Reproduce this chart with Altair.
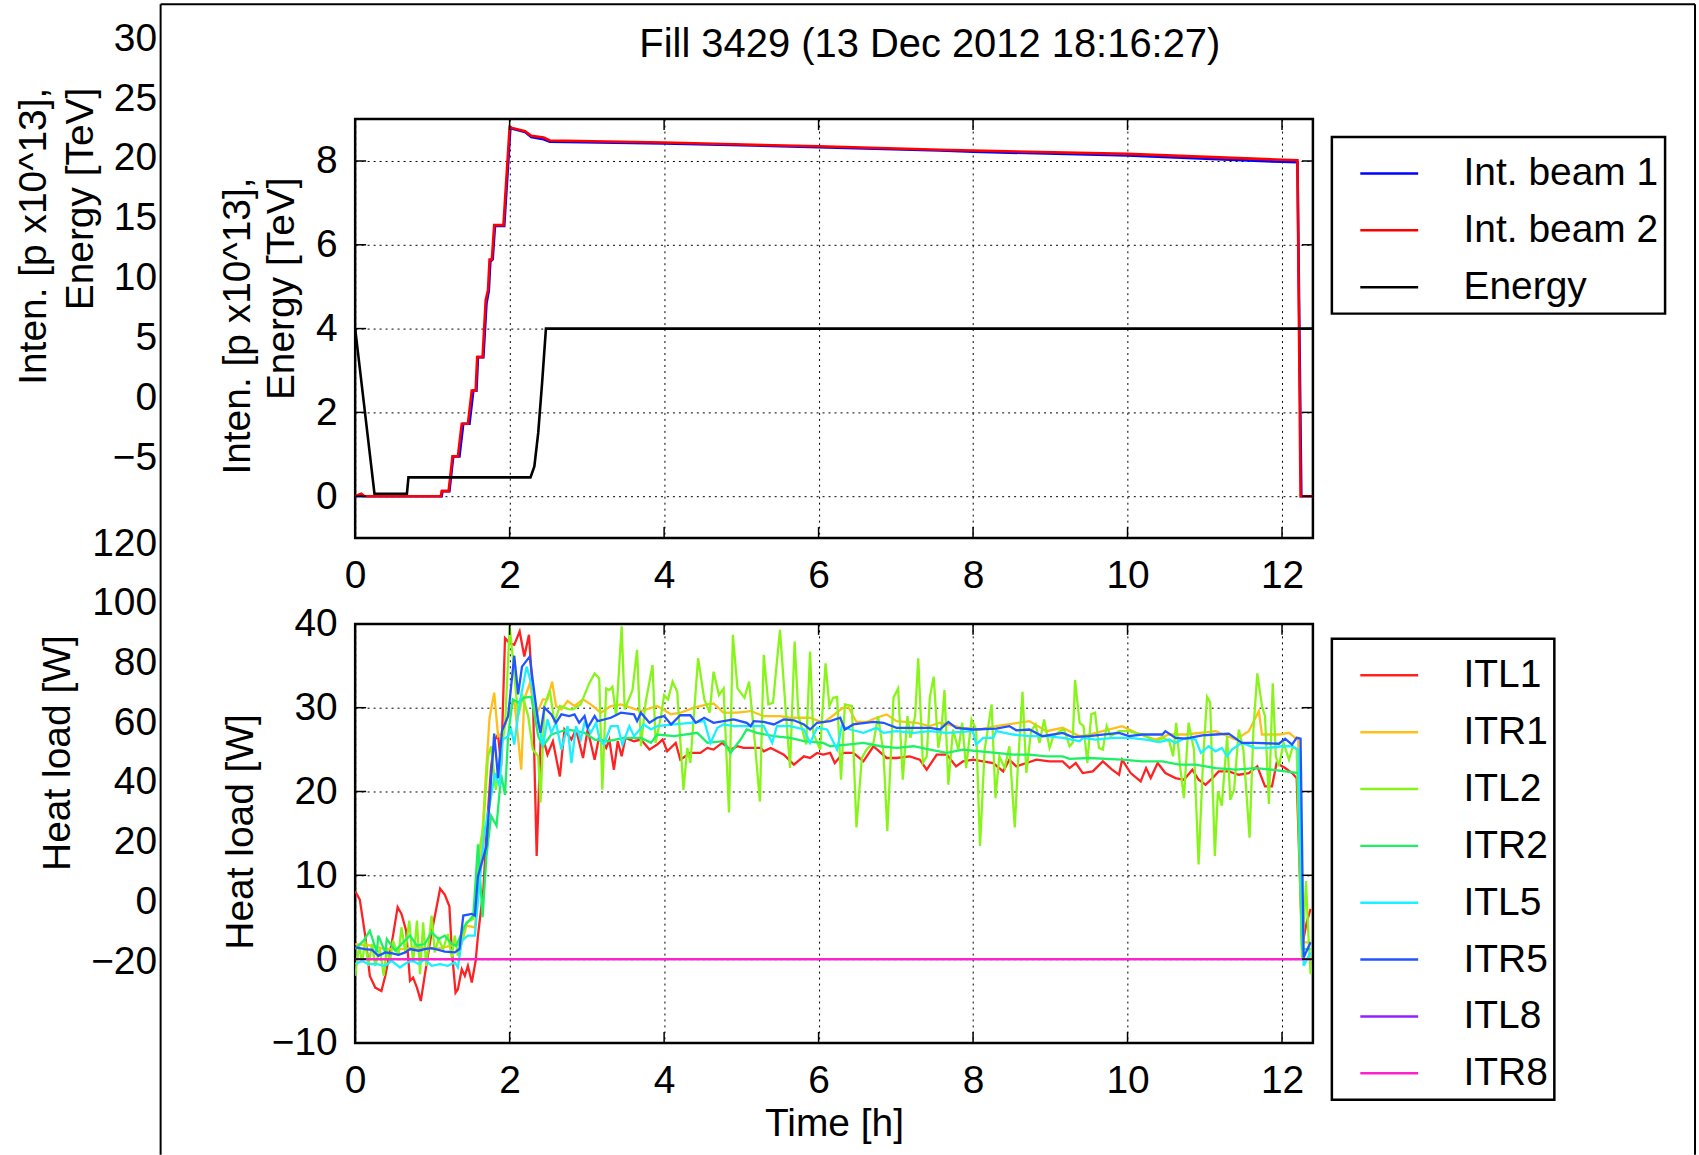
import altair as alt
import pandas as pd

FONT = "Liberation Sans"
FS = 39

TITLE = "Fill 3429 (13 Dec 2012 18:16:27)"
TOP_YTITLE = ["Inten. [p x10^13],", "Energy [TeV]"]
BOT_YTITLE = "Heat load [W]"
XTITLE = "Time [h]"

X_TICKS = [0, 2, 4, 6, 8, 10, 12]
TOP_Y_TICKS = [0, 2, 4, 6, 8]
BOT_Y_TICKS = [-10, 0, 10, 20, 30, 40]
OUTER_TOP_TICKS = [-5, 0, 5, 10, 15, 20, 25, 30]
OUTER_BOT_TICKS = [-20, 0, 20, 40, 60, 80, 100, 120]

TOP_NAMES = ["Int. beam 1", "Int. beam 2", "Energy"]
TOP_COLORS = ["#0000ff", "#ff0000", "#000000"]
BOT_NAMES = ["ITL1", "ITR1", "ITL2", "ITR2", "ITL5", "ITR5", "ITL8", "ITR8"]
BOT_COLORS = ["#ff2222", "#ffbf1a", "#88f51a", "#1ef066", "#1af0ff", "#2255ff", "#9022ff", "#ff22cc"]

# (time [h], value) samples
BEAM1 = [(0.0, 0.0), (1.12, 0.0), (1.13, 0.12), (1.22, 0.12), (1.27, 0.95), (1.35, 0.95), (1.40, 1.73),
         (1.48, 1.73), (1.53, 2.52), (1.57, 2.52), (1.59, 3.32), (1.66, 3.32), (1.70, 4.6), (1.73, 4.9),
         (1.75, 5.6), (1.78, 5.65), (1.81, 6.45), (1.93, 6.45), (2.01, 8.8), (2.04, 8.77), (2.20, 8.69),
         (2.28, 8.57), (2.44, 8.52), (2.52, 8.46), (4.0, 8.42), (6.0, 8.33), (7.57, 8.25), (8.0, 8.22),
         (10.0, 8.13), (12.0, 7.98), (12.2, 7.97), (12.25, 0.0), (12.4, 0.0)]
BEAM2 = [(0.0, 0.0), (0.08, 0.06), (0.12, 0.0), (1.11, 0.0), (1.12, 0.12), (1.21, 0.12), (1.26, 0.95),
         (1.33, 0.95), (1.38, 1.73), (1.46, 1.73), (1.51, 2.52), (1.56, 2.52), (1.58, 3.32), (1.65, 3.32),
         (1.69, 4.68), (1.72, 4.92), (1.74, 5.65), (1.77, 5.65), (1.80, 6.47), (1.92, 6.47), (2.00, 8.81),
         (2.03, 8.79), (2.20, 8.71), (2.28, 8.60), (2.44, 8.56), (2.52, 8.49), (4.0, 8.44), (6.0, 8.35),
         (7.57, 8.27), (8.0, 8.25), (10.0, 8.17), (12.0, 8.03), (12.2, 8.02), (12.24, 0.0), (12.4, 0.0)]
ENERGY = [(0.0, 4.0), (0.25, 0.06), (0.67, 0.06), (0.69, 0.45), (2.27, 0.45), (2.32, 0.71), (2.37, 1.51),
          (2.42, 2.7), (2.47, 4.0), (12.4, 4.0)]

ITL1 = [(0.0, 8.1), (0.06, 7.1), (0.13, 2.8), (0.19, -2.0), (0.26, -3.4), (0.34, -3.8), (0.39, -2.0), (0.45, 0.8),
        (0.49, 2.8), (0.55, 6.2), (0.60, 5.4), (0.66, 3.4), (0.71, -2.6), (0.75, -2.2), (0.80, -3.4), (0.85, -5.0),
        (0.90, -2.0), (0.99, 3.2), (1.05, 6.0), (1.10, 8.4), (1.16, 7.7), (1.22, 6.3), (1.25, 1.2), (1.30, -4.0),
        (1.33, -3.6), (1.38, -1.2), (1.42, -2.0), (1.46, -0.8), (1.51, -2.8), (1.56, -0.2), (1.59, 2.8), (1.66, 8.3),
        (1.70, 15.1), (1.76, 23.0), (1.81, 26.2), (1.85, 26.8), (1.89, 23.0), (1.94, 38.3), (2.00, 37.7), (2.06, 37.5),
        (2.13, 39.1), (2.19, 36.1), (2.25, 38.7), (2.30, 31.7), (2.35, 12.3), (2.40, 25.8), (2.45, 25.8), (2.49, 24.4),
        (2.56, 26.0), (2.65, 21.8), (2.71, 27.4), (2.80, 26.2), (2.86, 27.4), (2.95, 24.0), (3.01, 27.4), (3.10, 23.8),
        (3.16, 26.6), (3.25, 25.2), (3.29, 26.2), (3.35, 22.6), (3.40, 26.0), (3.45, 24.2), (3.50, 26.4), (3.61, 26.0),
        (3.70, 26.2), (3.81, 25.0), (3.91, 25.6), (3.98, 26.2), (4.04, 24.8), (4.15, 25.8), (4.21, 23.8), (4.34, 24.6),
        (4.47, 24.6), (4.56, 25.2), (4.64, 25.0), (4.75, 25.8), (4.86, 25.0), (4.95, 25.4), (5.03, 25.2), (5.25, 25.2),
        (5.29, 24.8), (5.38, 25.2), (5.55, 24.4), (5.68, 23.2), (5.81, 24.2), (5.89, 24.0), (5.98, 24.6), (6.06, 24.4),
        (6.15, 24.6), (6.21, 23.4), (6.32, 24.6), (6.45, 24.6), (6.58, 23.6), (6.71, 25.4), (6.88, 24.0), (7.01, 24.0),
        (7.18, 24.2), (7.31, 23.8), (7.40, 22.6), (7.53, 24.4), (7.66, 24.4), (7.78, 23.0), (7.87, 23.6), (8.00, 23.8),
        (8.13, 23.6), (8.26, 23.4), (8.39, 22.4), (8.47, 23.8), (8.56, 23.0), (8.69, 23.4), (8.82, 23.8), (8.99, 23.6),
        (9.16, 23.6), (9.25, 22.8), (9.33, 23.4), (9.42, 22.2), (9.55, 22.4), (9.68, 23.6), (9.80, 22.6), (9.89, 22.0),
        (9.93, 23.8), (10.04, 22.2), (10.17, 21.2), (10.24, 22.8), (10.30, 21.6), (10.39, 23.4), (10.49, 22.2),
        (10.62, 21.6), (10.73, 21.4), (10.84, 22.6), (10.92, 21.4), (11.01, 20.8), (11.10, 21.6), (11.18, 22.4),
        (11.31, 22.4), (11.44, 22.0), (11.57, 22.2), (11.68, 23.0), (11.78, 20.6), (11.87, 20.6), (11.93, 23.4),
        (12.04, 22.8), (12.13, 22.2), (12.19, 21.6), (12.26, 1.6), (12.32, 4.4), (12.37, 6.0)]

ITR1 = [(0.0, 1.8), (0.22, 1.6), (0.39, 1.2), (0.60, 1.2), (0.82, 1.4), (1.03, 1.2), (1.25, 1.6), (1.38, 1.8),
        (1.44, 4.0), (1.55, 3.8), (1.61, 9.1), (1.68, 20.2), (1.74, 28.8), (1.80, 31.8), (1.85, 26.6), (1.91, 27.0),
        (1.98, 29.0), (2.06, 31.0), (2.15, 22.6), (2.19, 31.0), (2.26, 32.9), (2.34, 29.0), (2.43, 31.0), (2.49, 31.0),
        (2.55, 33.1), (2.60, 30.2), (2.67, 29.8), (2.75, 30.8), (2.84, 30.2), (2.95, 31.0), (3.05, 30.4), (3.18, 29.4),
        (3.31, 30.2), (3.44, 30.4), (3.70, 29.6), (3.91, 30.2), (4.09, 29.2), (4.21, 29.4), (4.39, 30.0), (4.56, 30.4),
        (4.64, 30.5), (4.77, 29.4), (4.94, 29.4), (5.12, 29.6), (5.29, 29.0), (5.50, 29.0), (5.63, 28.8), (5.89, 28.8),
        (6.06, 28.2), (6.15, 28.8), (6.32, 30.0), (6.39, 30.0), (6.49, 28.3), (6.62, 28.3), (6.75, 28.8), (6.88, 29.2),
        (7.01, 28.4), (7.27, 28.2), (7.44, 27.8), (7.57, 28.2), (7.87, 27.6), (8.09, 27.4), (8.30, 27.8), (8.73, 28.4),
        (8.95, 27.2), (9.16, 27.6), (9.38, 26.6), (9.50, 26.8), (9.93, 27.8), (10.11, 27.0), (10.36, 26.2),
        (10.54, 26.8), (10.75, 26.8), (11.14, 27.2), (11.40, 26.2), (11.57, 27.2), (11.70, 29.6), (11.74, 26.8),
        (11.96, 26.8), (12.09, 27.0), (12.17, 26.4), (12.21, 26.4), (12.26, 2.0), (12.37, 2.0)]

ITL2 = [(0.0, -2.0), (0.05, 1.6), (0.09, -0.4), (0.13, 2.2), (0.17, -0.8), (0.22, 1.8), (0.26, -0.8), (0.32, 1.2),
        (0.37, -2.0), (0.41, 1.4), (0.45, -0.4), (0.49, 2.2), (0.56, 0.4), (0.60, 3.8), (0.65, 0.8), (0.70, 4.6),
        (0.75, -0.4), (0.80, 4.6), (0.84, -1.8), (0.88, 4.4), (0.92, -0.8), (0.99, 5.2), (1.03, 0.8), (1.08, 2.4),
        (1.14, 1.2), (1.20, 3.0), (1.25, 0.2), (1.29, 2.8), (1.33, 0.4), (1.44, 4.4), (1.53, 4.8), (1.61, 13.1),
        (1.66, 15.9), (1.72, 24.2), (1.76, 25.4), (1.82, 20.2), (1.87, 23.8), (1.94, 27.8), (2.00, 39.7), (2.04, 36.1),
        (2.11, 29.0), (2.17, 31.3), (2.24, 29.0), (2.30, 25.0), (2.37, 24.2), (2.40, 18.7), (2.45, 30.2), (2.52, 32.1),
        (2.58, 28.2), (2.65, 30.2), (2.71, 30.0), (2.77, 29.8), (2.82, 29.8), (2.92, 30.4), (3.03, 32.9), (3.10, 34.1),
        (3.16, 33.5), (3.20, 20.2), (3.25, 32.3), (3.29, 32.1), (3.33, 32.5), (3.38, 29.0), (3.45, 39.7), (3.49, 29.8),
        (3.59, 32.1), (3.65, 36.9), (3.70, 25.4), (3.76, 30.6), (3.85, 35.1), (3.89, 25.8), (3.96, 29.0), (4.00, 31.5),
        (4.05, 31.0), (4.11, 33.1), (4.17, 31.9), (4.25, 20.2), (4.30, 25.2), (4.34, 23.4), (4.44, 35.9), (4.52, 31.0),
        (4.59, 29.4), (4.64, 34.3), (4.71, 31.5), (4.77, 32.3), (4.84, 17.5), (4.89, 38.7), (4.95, 32.3), (5.04, 31.2),
        (5.10, 33.1), (5.16, 27.4), (5.24, 18.8), (5.29, 36.3), (5.35, 30.4), (5.41, 30.6), (5.50, 39.3), (5.57, 30.2),
        (5.63, 22.8), (5.69, 37.9), (5.74, 29.0), (5.84, 25.6), (5.89, 36.7), (5.93, 27.0), (6.02, 25.0), (6.09, 35.3),
        (6.14, 30.2), (6.19, 31.2), (6.24, 31.3), (6.29, 21.4), (6.34, 30.4), (6.43, 30.2), (6.49, 15.7), (6.56, 24.0),
        (6.62, 25.0), (6.71, 25.8), (6.77, 29.0), (6.84, 24.6), (6.89, 15.3), (6.97, 31.2), (7.03, 32.3), (7.09, 21.4),
        (7.15, 29.0), (7.19, 26.4), (7.25, 29.0), (7.29, 35.9), (7.35, 23.4), (7.40, 24.2), (7.44, 31.2), (7.49, 33.7),
        (7.55, 25.2), (7.59, 27.4), (7.63, 32.1), (7.68, 20.8), (7.74, 27.4), (7.81, 25.0), (7.86, 28.2), (7.91, 22.8),
        (7.98, 28.6), (8.04, 27.4), (8.09, 13.5), (8.15, 25.0), (8.24, 30.4), (8.29, 19.2), (8.34, 24.2), (8.41, 22.8),
        (8.47, 25.4), (8.54, 15.7), (8.58, 23.0), (8.64, 31.9), (8.69, 22.2), (8.75, 27.2), (8.81, 28.0), (8.86, 25.8),
        (8.92, 28.6), (8.99, 25.2), (9.04, 26.6), (9.12, 27.2), (9.18, 27.4), (9.25, 25.4), (9.29, 25.8), (9.32, 33.3),
        (9.38, 28.2), (9.43, 27.8), (9.48, 23.4), (9.53, 29.2), (9.58, 29.4), (9.63, 25.2), (9.68, 25.0), (9.73, 27.8),
        (9.78, 26.6), (9.89, 27.2), (10.02, 27.2), (10.19, 26.8), (10.36, 26.0), (10.47, 26.4), (10.54, 26.0),
        (10.59, 24.2), (10.63, 28.2), (10.68, 23.0), (10.73, 19.2), (10.79, 28.2), (10.86, 25.0), (10.92, 11.3),
        (10.98, 24.2), (11.03, 31.3), (11.07, 30.6), (11.13, 12.3), (11.17, 20.0), (11.22, 18.3), (11.29, 26.6),
        (11.33, 19.0), (11.38, 20.2), (11.44, 27.4), (11.50, 25.0), (11.58, 14.5), (11.63, 27.4), (11.68, 34.1),
        (11.74, 30.2), (11.78, 29.0), (11.83, 18.5), (11.88, 32.9), (11.92, 24.2), (11.96, 23.0), (12.02, 25.8),
        (12.09, 23.8), (12.14, 25.4), (12.19, 25.0), (12.26, 0.0), (12.31, 9.3), (12.34, 3.2), (12.37, -1.8)]

ITR2 = [(0.0, 1.2), (0.11, 2.2), (0.19, 3.4), (0.28, 0.8), (0.30, 2.8), (0.39, 0.8), (0.41, 2.4), (0.52, 1.0),
        (0.60, 1.8), (0.71, 2.8), (0.80, 1.6), (0.90, 1.8), (0.99, 3.2), (1.08, 2.4), (1.16, 2.8), (1.25, 1.8),
        (1.31, 1.6), (1.42, 4.0), (1.53, 5.2), (1.59, 13.7), (1.65, 5.0), (1.70, 12.3), (1.76, 17.1), (1.83, 15.9),
        (1.89, 22.0), (1.94, 19.6), (1.98, 26.6), (2.04, 31.0), (2.11, 30.6), (2.19, 31.2), (2.28, 31.3), (2.37, 26.6),
        (2.43, 25.4), (2.54, 26.8), (2.75, 27.4), (2.97, 27.0), (3.10, 26.2), (3.27, 26.0), (3.48, 26.4), (3.70, 26.4),
        (3.83, 25.8), (3.91, 26.8), (4.13, 26.6), (4.43, 27.0), (4.56, 25.8), (4.77, 26.0), (4.86, 24.6), (4.99, 26.2),
        (5.07, 27.4), (5.20, 27.0), (5.42, 26.6), (5.63, 26.4), (5.81, 26.0), (6.06, 25.8), (6.15, 25.4), (6.37, 25.6),
        (6.58, 25.8), (6.80, 25.4), (7.01, 25.2), (7.23, 25.4), (7.44, 25.0), (7.66, 24.6), (7.87, 25.0), (8.09, 24.8),
        (8.30, 24.6), (8.52, 24.4), (8.73, 24.4), (8.95, 24.2), (9.16, 24.2), (9.25, 23.9), (9.50, 24.0), (9.93, 23.8),
        (10.19, 23.6), (10.45, 23.6), (10.67, 23.2), (10.88, 23.2), (11.14, 22.8), (11.40, 22.6), (11.65, 22.8),
        (11.87, 22.6), (12.04, 22.4), (12.21, 22.2), (12.26, 1.2), (12.37, 1.2)]

ITL5 = [(0.0, -0.6), (0.09, -0.2), (0.17, -0.6), (0.28, -0.6), (0.39, -0.8), (0.47, -0.2), (0.58, -1.0), (0.67, -0.4),
        (0.75, -0.2), (0.82, -0.6), (0.90, 0.0), (0.99, -0.8), (1.10, -0.6), (1.20, -0.8), (1.29, -0.4), (1.33, -1.0),
        (1.38, 2.2), (1.46, 2.8), (1.55, 2.8), (1.61, 9.1), (1.68, 15.5), (1.74, 18.3), (1.81, 22.2), (1.87, 20.6),
        (1.91, 26.2), (1.98, 26.6), (2.02, 27.4), (2.06, 25.6), (2.13, 30.6), (2.22, 34.9), (2.28, 32.9), (2.37, 28.6),
        (2.43, 25.4), (2.49, 28.6), (2.54, 27.0), (2.60, 28.2), (2.67, 25.0), (2.75, 27.8), (2.80, 23.4), (2.86, 27.8),
        (2.92, 26.2), (2.97, 28.2), (3.05, 27.0), (3.12, 28.2), (3.16, 26.4), (3.22, 25.6), (3.31, 27.8), (3.40, 27.8),
        (3.46, 25.6), (3.55, 27.8), (3.61, 26.6), (3.74, 28.0), (3.83, 27.4), (3.91, 27.8), (4.13, 28.0), (4.34, 28.2),
        (4.52, 28.4), (4.60, 25.8), (4.69, 27.6), (4.77, 28.0), (4.90, 27.8), (5.07, 27.8), (5.29, 27.8), (5.40, 25.8),
        (5.46, 27.8), (5.63, 27.8), (5.81, 27.4), (5.89, 25.8), (5.98, 27.6), (6.11, 27.4), (6.24, 25.0), (6.30, 27.8),
        (6.41, 27.4), (6.58, 27.0), (6.75, 27.6), (6.84, 27.0), (7.01, 27.2), (7.23, 27.0), (7.44, 27.2), (7.66, 27.0),
        (8.00, 27.2), (8.04, 25.6), (8.13, 26.4), (8.26, 26.4), (8.30, 27.2), (8.52, 26.8), (8.73, 26.6), (8.95, 26.6),
        (9.16, 26.4), (9.38, 26.0), (9.42, 26.4), (9.59, 26.2), (9.81, 26.4), (10.02, 26.4), (10.24, 26.2),
        (10.41, 25.9), (10.54, 26.2), (10.62, 25.8), (10.75, 26.4), (10.88, 26.2), (10.95, 24.6), (11.05, 25.4),
        (11.14, 24.8), (11.22, 25.2), (11.29, 24.2), (11.35, 25.0), (11.48, 25.8), (11.65, 25.2), (11.83, 25.2),
        (12.00, 25.4), (12.13, 25.4), (12.21, 25.0), (12.28, -0.8), (12.37, 0.8)]

ITR5 = [(0.0, 1.4), (0.13, 1.2), (0.22, 1.1), (0.30, 0.4), (0.39, 0.8), (0.47, 0.7), (0.56, 0.5), (0.65, 0.8),
        (0.71, 1.2), (0.82, 1.0), (0.90, 1.2), (0.99, 1.3), (1.08, 1.1), (1.16, 0.9), (1.29, 0.8), (1.35, 1.2),
        (1.40, 5.2), (1.51, 5.4), (1.55, 5.2), (1.59, 9.9), (1.70, 13.5), (1.80, 26.9), (1.85, 21.6), (1.90, 27.2),
        (1.98, 29.0), (2.06, 36.2), (2.11, 31.6), (2.16, 34.9), (2.26, 36.1), (2.37, 28.2), (2.40, 27.0), (2.45, 30.0),
        (2.54, 29.2), (2.60, 28.2), (2.67, 29.2), (2.77, 29.0), (2.84, 29.2), (2.90, 28.2), (2.97, 29.0), (3.01, 27.6),
        (3.10, 29.0), (3.14, 28.4), (3.31, 28.8), (3.44, 29.4), (3.61, 29.2), (3.65, 28.4), (3.70, 29.4), (3.81, 28.2),
        (3.91, 28.8), (4.00, 29.0), (4.09, 28.0), (4.21, 29.1), (4.34, 29.1), (4.41, 28.2), (4.52, 28.8), (4.64, 28.2),
        (4.77, 28.4), (4.90, 28.6), (5.07, 28.2), (5.12, 27.8), (5.16, 28.4), (5.29, 28.3), (5.42, 28.0), (5.55, 28.6),
        (5.68, 28.5), (5.81, 28.0), (5.89, 27.4), (5.98, 28.2), (6.15, 28.4), (6.28, 28.8), (6.34, 27.4), (6.45, 28.0),
        (6.71, 28.3), (6.84, 28.2), (7.01, 27.6), (7.23, 27.6), (7.44, 27.6), (7.57, 27.4), (7.68, 28.3), (7.78, 27.6),
        (8.00, 27.4), (8.30, 27.5), (8.47, 27.8), (8.56, 27.3), (8.73, 27.4), (8.90, 26.6), (9.16, 27.0), (9.29, 26.5),
        (9.50, 26.6), (9.68, 26.8), (9.89, 27.0), (10.02, 26.6), (10.19, 26.8), (10.45, 26.8), (10.49, 27.2),
        (10.62, 26.4), (10.75, 26.3), (10.97, 26.7), (11.14, 26.8), (11.31, 26.9), (11.48, 25.8), (11.65, 25.8),
        (11.96, 25.7), (12.04, 26.3), (12.13, 25.6), (12.19, 26.4), (12.24, 26.3), (12.28, 0.2), (12.37, 2.0)]

ITL8 = [(0.0, 0.0), (12.38, 0.0)]
ITR8 = [(0.0, 0.0), (12.38, 0.0)]

BOT_SERIES = [ITL1, ITR1, ITL2, ITR2, ITL5, ITR5, ITL8, ITR8]
TOP_SERIES = [BEAM1, BEAM2, ENERGY]

# ---- layout (pixels) ----
W, H = 960, 420          # each plot area
GAP = 86                 # vertical gap between the two plot areas
OX, OY = 354, 116        # top plot-area origin on the page
SIDE_X = 161             # x of the outer label column
FRAME_L, FRAME_R, FRAME_T = 159, 1697, 1   # page frame lines
PAGE_W, PAGE_H = 1699, 1155
TICK = 11

MINUS = "datum.value < 0 ? '\u2212' + format(-datum.value, 'd') : datum.label"

x_scale = alt.Scale(domain=[0, 12.4], nice=False, zero=False)
top_y_scale = alt.Scale(domain=[-1, 9], nice=False, zero=False)
bot_y_scale = alt.Scale(domain=[-10, 40], nice=False, zero=False)


def frame(pts):
    return pd.DataFrame(pts, columns=["t", "v"])


def x_axis(title=None):
    kw = dict(values=X_TICKS, grid=True, labelPadding=19, labelFlush=False, labelAngle=0)
    if title:
        kw.update(title=title, titleX=W / 2, titleY=62, titleAlign="center", titleBaseline="top")
    else:
        kw.update(title="")
    return alt.Axis(**kw)


def tick_layers(y_ticks, y_scale, x_ax, y_ax):
    xt = pd.DataFrame({"t": X_TICKS})
    yt = pd.DataFrame({"v": y_ticks})
    style = dict(color="black", strokeWidth=1.5)
    xe = alt.X("t:Q", scale=x_scale, axis=x_ax)
    ye = alt.Y("v:Q", scale=y_scale, axis=y_ax)
    return [
        alt.Chart(xt).mark_rule(**style).encode(x=xe, y=alt.value(H), y2=alt.value(H - TICK)),
        alt.Chart(xt).mark_rule(**style).encode(x=xe, y=alt.value(0), y2=alt.value(TICK)),
        alt.Chart(yt).mark_rule(**style).encode(y=ye, x=alt.value(0), x2=alt.value(TICK)),
        alt.Chart(yt).mark_rule(**style).encode(y=ye, x=alt.value(W), x2=alt.value(W - TICK)),
    ]


def legend(ly):
    return alt.Legend(title=None, orient="none", legendX=979, legendY=ly, symbolType="stroke",
                      symbolSize=3364, symbolStrokeWidth=2.5, labelFont=FONT, labelFontSize=FS,
                      labelOffset=44, labelLimit=400, padding=6, symbolOffset=21, rowPadding=6,
                      strokeColor="black", fillColor="white")


def series_layers(names, colors, series, y_scale, y_ax, lg, width, x_ax):
    cscale = alt.Scale(domain=names, range=colors)
    layers = []
    for name, pts in zip(names, series):
        df = frame(pts)
        df["series"] = name
        layers.append(
            alt.Chart(df).mark_line(strokeWidth=width, clip=True).encode(
                x=alt.X("t:Q", scale=x_scale, axis=x_ax),
                y=alt.Y("v:Q", scale=y_scale, axis=y_ax),
                color=alt.Color("series:N", scale=cscale, legend=lg),
            )
        )
    return layers


def side_axis_chart(ticks, domain, rng, title, title_x, title_y, align, line_h):
    """Narrow column holding the outer y-axis labels and title."""
    ax = alt.Axis(orient="left", values=ticks, labelPadding=6, grid=False, labelExpr=MINUS,
                  title=title, titleX=title_x, titleY=title_y, titleAngle=270,
                  titleAlign=align, titleBaseline="top", titleLineHeight=line_h)
    return alt.Chart(pd.DataFrame({"g": ticks})).mark_point(opacity=0, size=1).encode(
        x=alt.value(0),
        y=alt.Y("g:Q", scale=alt.Scale(domain=domain, range=rng, nice=False, zero=False), axis=ax),
    ).properties(width=1, height=H, view=alt.ViewBackground(strokeOpacity=0))


# ---- top panel ----
top_x_axis = x_axis()
top_y_axis = alt.Axis(values=TOP_Y_TICKS, grid=True, labelPadding=18, title=TOP_YTITLE,
                      titleX=-137, titleY=58, titleAngle=270, titleAlign="right",
                      titleBaseline="top", titleLineHeight=44)

deco = alt.Data(values=[{}])
page_marks = [
    # white line along the page's top edge, keeps the page origin fixed
    alt.Chart(deco).mark_rule(color="white", strokeWidth=0.1).encode(
        x=alt.value(-OX), x2=alt.value(PAGE_W - OX), y=alt.value(-OY)),
    alt.Chart(deco).mark_rule(color="black", strokeWidth=2).encode(
        x=alt.value(FRAME_L - OX), x2=alt.value(FRAME_R - OX), y=alt.value(FRAME_T - OY)),
    alt.Chart(deco).mark_rule(color="black", strokeWidth=2).encode(
        x=alt.value(FRAME_L - OX), y=alt.value(FRAME_T - OY), y2=alt.value(PAGE_H - 1 - OY)),
    alt.Chart(deco).mark_rule(color="black", strokeWidth=2).encode(
        x=alt.value(FRAME_R - OX), y=alt.value(FRAME_T - OY), y2=alt.value(PAGE_H - 1 - OY)),
    alt.Chart(deco).mark_text(font=FONT, fontSize=40, align="center", baseline="alphabetic",
                              color="black").encode(
        x=alt.value(930 - OX), y=alt.value(54 - OY), text=alt.value(TITLE)),
]

top = alt.layer(
    *series_layers(TOP_NAMES, TOP_COLORS, TOP_SERIES, top_y_scale, top_y_axis, legend(18), 2.6, top_x_axis),
    *tick_layers(TOP_Y_TICKS, top_y_scale, top_x_axis, top_y_axis),
    *page_marks,
).properties(width=W, height=H)

# ---- bottom panel ----
bot_x_axis = x_axis(XTITLE)
bot_y_axis = alt.Axis(values=BOT_Y_TICKS, grid=True, labelPadding=18, labelExpr=MINUS,
                      title=BOT_YTITLE, titleX=-134, titleY=208, titleAngle=270,
                      titleAlign="center", titleBaseline="top")
bottom = alt.layer(
    *series_layers(BOT_NAMES, BOT_COLORS, BOT_SERIES, bot_y_scale, bot_y_axis, legend(15), 2.3, bot_x_axis),
    *tick_layers(BOT_Y_TICKS, bot_y_scale, bot_x_axis, bot_y_axis),
).properties(width=W, height=H)

side_top = side_axis_chart(OUTER_TOP_TICKS, [-5, 30], [339, -81], TOP_YTITLE, -148, -32, "right", 47)
side_bot = side_axis_chart(OUTER_BOT_TICKS, [-20, 120], [338, -81], BOT_YTITLE, -124, 129, "center", 47)

chart = (
    alt.concat(side_top, top, side_bot, bottom, columns=2,
               spacing={"row": GAP, "column": OX - SIDE_X - 1}, bounds="flush", align="each")
    .resolve_scale(x="independent", y="independent", color="independent")
    .resolve_legend(color="independent")
    .properties(padding=0, background="white")
    .configure_view(stroke="black", strokeWidth=2.5)
    .configure_axis(labelFont=FONT, labelFontSize=FS, labelColor="black", titleFont=FONT,
                    titleFontSize=FS, titleColor="black", titleFontWeight="normal", ticks=False,
                    tickSize=0, domain=False, labelOverlap=False, gridColor="black",
                    gridDash=[2, 4], gridWidth=1, gridOpacity=1)
    .configure_legend(strokeWidth=2.5)
)

chart.save("out.html", embed_options={"renderer": "svg", "actions": False})
